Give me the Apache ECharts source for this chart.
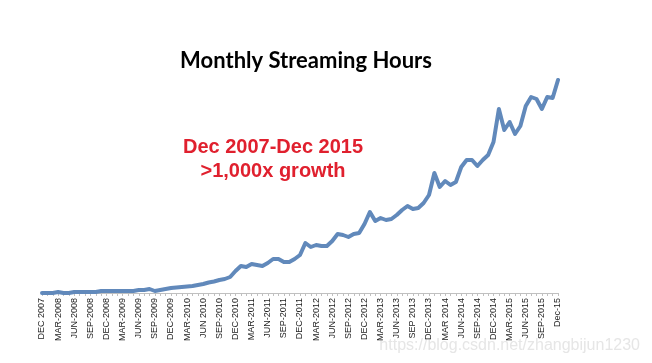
<!DOCTYPE html>
<html><head><meta charset="utf-8">
<script src="https://cdn.jsdelivr.net/npm/echarts@6/dist/echarts.min.js"></script>
<style>html,body{margin:0;padding:0;background:#fff}#c{width:652px;height:363px}</style>
</head><body><div id="c"></div>
<script>
// Monthly points Dec 2007 .. Dec 2015 (97 months)
const months = [];
const mNames = ['JAN','FEB','MAR','APR','MAY','JUN','JUL','AUG','SEP','OCT','NOV','DEC'];
for (let i = 0; i < 97; i++) { const k = 11 + i; months.push(mNames[k % 12] + '-' + (2007 + Math.floor(k / 12))); }
// Quarterly tick labels as printed
const tickLabels = ['DEC 2007','MAR-2008','JUN-2008','SEP-2008','DEC-2008','MAR-2009','JUN-2009','SEP-2009','DEC-2009','MAR-2010','JUN 2010','SEP-2010','DEC-2010','MAR-2011','JUN-2011','SEP-2011','DEC-2011','MAR-2012','JUN-2012','SEP-2012','DEC-2012','MAR-2013','JUN-2013','SEP 2013','DEC-2013','MAR 2014','JUN-2014','SEP-2014','DEC-2014','MAR-2015','JUN-2015','SEP-2015','Dec-15'];
// Streaming hours (relative units)
const hours = [0,0,0,1,0,0,1,1,1,1,1,2,2,2,2,2,2,2,3,3,4,2,3,4,5,5.5,6,6.5,7,8,9,10.5,11.5,13,14,16,
  22,27,26,29,28,27,30,34,34,31,31,34,38,50,46,48,47,47,52,59,58,56,59,60,69,81,72,75,73,74,78,83,87,84,85,90,
  98,120,106,112,108,111,126,133,133,127,133,138,151,184,163,171,159,167,187,196,194,184,196,195,213];

const chart = echarts.init(document.getElementById('c'));
chart.setOption({
  animation: false,
  backgroundColor: '#fff',
  title: { text: 'Monthly Streaming Hours', left: 301, top: 45, textAlign: 'center',
    textStyle: { fontFamily: 'Lato', fontWeight: 'bold', fontSize: 22, color: '#000' } },
  graphic: [
    { type: 'text', x: 273, y: 147, style: { text: 'Dec 2007-Dec 2015', fill: '#e0202e', font: 'bold 20px "Liberation Sans"', textAlign: 'center', textVerticalAlign: 'middle' } },
    { type: 'text', x: 273, y: 171, style: { text: '>1,000x growth', fill: '#e0202e', font: 'bold 20px "Liberation Sans"', textAlign: 'center', textVerticalAlign: 'middle' } },
    { type: 'text', x: 640, y: 346, style: { text: 'https://blog.csdn.net/zhangbijun1230', fill: '#e6e6e6', font: '16px "Liberation Sans"', textAlign: 'right', textVerticalAlign: 'middle' } }
  ],
  grid: { left: 42, right: 94, top: 63, bottom: 70, containLabel: false },
  xAxis: {
    type: 'category', data: months, boundaryGap: false,
    axisLine: { lineStyle: { color: '#c0c0c0', width: 1 } },
    axisTick: { show: true, interval: 0, length: 3, lineStyle: { color: '#c0c0c0' } },
    axisLabel: { interval: 0, rotate: 90, margin: 5, fontSize: 9, fontFamily: 'Liberation Sans', color: '#222',
      formatter: (v, i) => (i % 3 === 0 ? tickLabels[i / 3] : '') }
  },
  yAxis: { type: 'value', min: 0, max: 230, show: false, splitLine: { show: false } },
  series: [{ type: 'line', data: hours, showSymbol: false, smooth: false,
    lineStyle: { color: '#6189bb', width: 4, cap: 'round', join: 'round' } }]
});
</script></body></html>
